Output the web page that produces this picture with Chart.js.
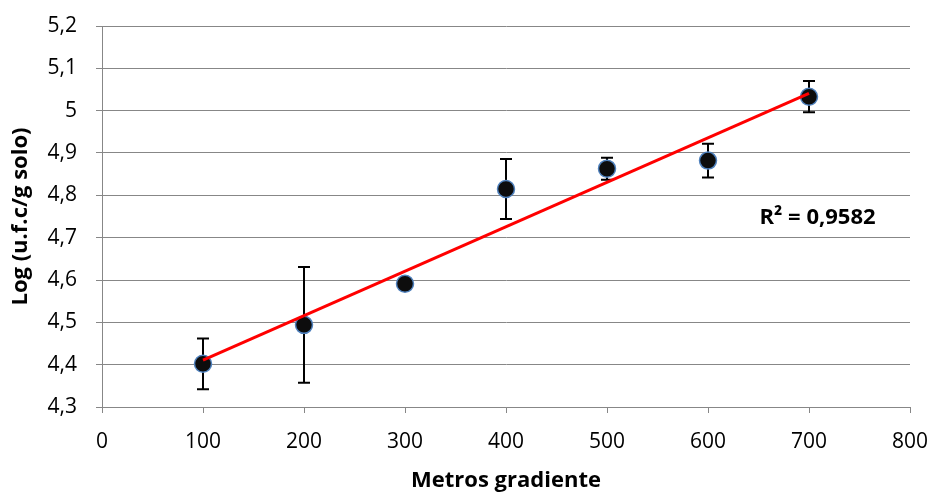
<!DOCTYPE html>
<html><head><meta charset="utf-8">
<script src="https://cdn.jsdelivr.net/npm/chart.js@4"></script>
<style>html,body{margin:0;padding:0;background:#fff}</style>
</head><body>
<canvas id="c" width="937" height="493"></canvas>
<script>
const xValues = [100, 200, 300, 400, 500, 600, 700];
const yValues = [4.402, 4.494, 4.591, 4.815, 4.863, 4.882, 5.033];
const yErrors = [0.060, 0.137, 0.000, 0.071, 0.026, 0.040, 0.037];
const xTickValues = [0, 100, 200, 300, 400, 500, 600, 700, 800];
const yTickValues = [4.3, 4.4, 4.5, 4.6, 4.7, 4.8, 4.9, 5.0, 5.1, 5.2];
const xTitle = 'Metros gradiente';
const yTitle = 'Log (u.f.c/g solo)';
const r2Label = 'R² = 0,9582';
const r2Pos = {x: 651, y: 4.747};

// least-squares trend line from the data
const n = xValues.length;
const mx = xValues.reduce((a,b)=>a+b,0)/n;
const my = yValues.reduce((a,b)=>a+b,0)/n;
let sxy=0, sxx=0;
for (let i=0;i<n;i++){ sxy+=(xValues[i]-mx)*(yValues[i]-my); sxx+=(xValues[i]-mx)**2; }
const slope = sxy/sxx, icpt = my - slope*mx;
const xMin = Math.min(...xValues), xMax = Math.max(...xValues);
const trend = [{x:xMin,y:icpt+slope*xMin},{x:xMax,y:icpt+slope*xMax}];

const FONT = "'Open Sans', 'Liberation Sans', sans-serif";
const GRID = '#878787';

const errorBars = {
  id:'errorBars',
  beforeDatasetsDraw(chart){
    const {ctx, scales:{x,y}} = chart;
    ctx.save();
    ctx.strokeStyle='#000'; ctx.lineWidth=2;
    for (let i=0;i<n;i++){
      if(!yErrors[i]) continue;
      const px=x.getPixelForValue(xValues[i]);
      const top=y.getPixelForValue(yValues[i]+yErrors[i]);
      const bot=y.getPixelForValue(yValues[i]-yErrors[i]);
      ctx.beginPath();
      ctx.moveTo(px,top); ctx.lineTo(px,bot);
      ctx.moveTo(px-6,top); ctx.lineTo(px+6,top);
      ctx.moveTo(px-6,bot); ctx.lineTo(px+6,bot);
      ctx.stroke();
    }
    ctx.restore();
  }
};
const r2Plugin = {
  id:'r2',
  afterDatasetsDraw(chart){
    const {ctx, scales:{x,y}} = chart;
    ctx.save();
    ctx.font = "bold 22px "+FONT;
    ctx.fillStyle='#000'; ctx.textAlign='left'; ctx.textBaseline='middle';
    ctx.fillText(r2Label, x.getPixelForValue(r2Pos.x), y.getPixelForValue(r2Pos.y));
    ctx.restore();
  }
};

const fmt = v => String(Number(v.toFixed(1))).replace('.', ',');

new Chart(document.getElementById('c'), {
  type:'scatter',
  data:{datasets:[
    {label:'trend', type:'line', data:trend, borderColor:'#ff0000', borderWidth:3, pointRadius:0, fill:false, order:0},
    {label:'data', data:xValues.map((v,i)=>({x:v,y:yValues[i]})), backgroundColor:'#0d0d0d', borderColor:'#4f81bd', borderWidth:1.5, pointRadius:8.5, order:1}
  ]},
  options:{
    responsive:false, animation:false,
    layout:{padding:{top:26,right:27,left:0,bottom:0}},
    plugins:{legend:{display:false}, tooltip:{enabled:false}},
    scales:{
      x:{type:'linear', min:0, max:800,
        afterBuildTicks(s){ s.ticks = xTickValues.map(v=>({value:v})); },
        afterFit(s){ s.height = 86; s.paddingLeft = 0; s.paddingRight = 0; },
        border:{color:GRID, width:1},
        grid:{drawOnChartArea:false, color:GRID, tickLength:6},
        ticks:{color:'#000', font:{family:FONT, size:21}, padding:16, maxRotation:0, callback:v=>String(v)},
        title:{display:true, text:xTitle, color:'#000', font:{family:FONT, size:22, weight:'bold'}, padding:{top:0,bottom:-1}}
      },
      y:{type:'linear', min:4.3, max:5.2,
        afterBuildTicks(s){ s.ticks = yTickValues.map(v=>({value:v})); },
        afterFit(s){ s.width = 102; s.paddingTop = 0; s.paddingBottom = 0; },
        border:{color:GRID, width:1},
        grid:{color:GRID, tickLength:6},
        ticks:{color:'#000', font:{family:FONT, size:21}, padding:19, callback:v=>fmt(v)},
        title:{display:true, text:yTitle, color:'#000', font:{family:FONT, size:22, weight:'bold'}, padding:{top:8,bottom:0}}
      }
    }
  },
  plugins:[errorBars, r2Plugin]
});
</script>
</body></html>
